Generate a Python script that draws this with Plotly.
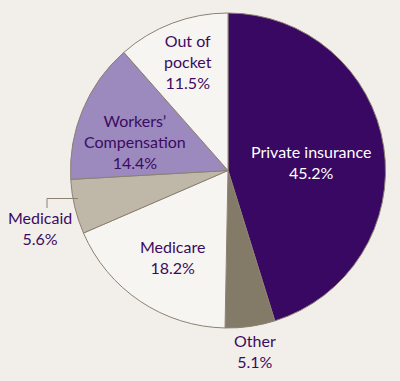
import plotly.graph_objects as go

categories = ["Private insurance", "Other", "Medicare", "Medicaid", "Workers' Compensation", "Out of pocket"]
values = [45.2, 5.1, 18.2, 5.6, 14.4, 11.5]
colors = ["#380862", "#847a68", "#f7f5f1", "#bfb8a9", "#9c89bd", "#f7f5f1"]

W, H = 400, 381
BG = "#f2efea"
TXT = "#3b0b62"

fig = go.Figure(go.Pie(
    labels=categories,
    values=values,
    sort=False,
    direction="clockwise",
    rotation=0,
    marker=dict(colors=colors, line=dict(color="#8c8172", width=1)),
    textinfo="none",
    hoverinfo="label+percent",
    showlegend=False,
    domain=dict(x=[70 / W, 386 / W], y=[1 - 328 / H, 1 - 13 / H]),
))

# label texts with pixel centers
label_texts = [
    ("Out of<br>pocket<br>11.5%", 188, 62, TXT),
    ("Workers’<br>Compensation<br>14.4%", 135, 141, TXT),
    ("Private insurance<br>45.2%", 311, 162, "white"),
    ("Medicaid<br>5.6%", 40, 228, TXT),
    ("Medicare<br>18.2%", 172, 257, TXT),
    ("Other<br>5.1%", 255, 351, TXT),
]
for text, px, py, col in label_texts:
    fig.add_annotation(
        x=px / W, y=1 - py / H, xref="paper", yref="paper",
        text=text, showarrow=False, align="center",
        font=dict(family="Lato, sans-serif", size=16, color=col),
        xanchor="center", yanchor="middle",
    )

# Medicaid leader line
fig.add_shape(type="line", xref="paper", yref="paper",
              x0=47 / W, y0=1 - 208 / H, x1=47 / W, y1=1 - 198.5 / H,
              line=dict(color="#8c8172", width=1))
fig.add_shape(type="line", xref="paper", yref="paper",
              x0=47 / W, y0=1 - 198.5 / H, x1=78 / W, y1=1 - 198.5 / H,
              line=dict(color="#8c8172", width=1))

fig.update_layout(
    width=W, height=H,
    margin=dict(l=0, r=0, t=0, b=0),
    paper_bgcolor=BG, plot_bgcolor=BG,
)

fig.write_html("out.html", config={"displayModeBar": False},
               post_script="document.body.style.margin='0';document.body.style.background='%s';" % BG)
